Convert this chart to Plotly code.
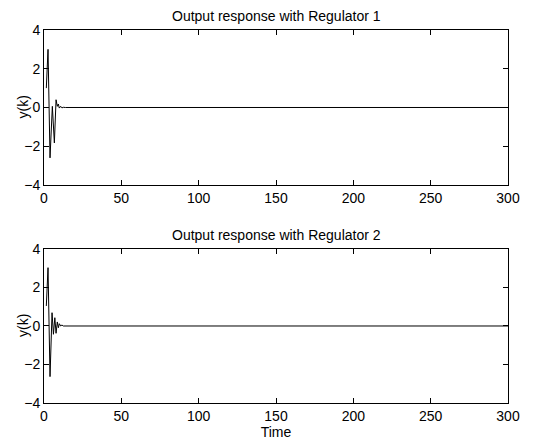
import plotly.graph_objects as go

# Regulator 1 transient (time, output), then settles at 0
t1 = [1.5, 2.6, 3.9, 5.4, 6.7, 7.8, 8.6, 9.25, 9.9, 10.8, 11.6, 12.5, 14]
y1 = [1.0, 3.0, -2.6, 0.06, -1.83, 0.4, 0.06, 0.18, -0.03, 0.06, -0.02, 0.01, 0.0]
# Regulator 2 transient
t2 = [1.5, 2.6, 3.9, 5.2, 6.1, 7.0, 7.8, 8.6, 9.3, 9.9, 10.8, 11.6, 12.5, 14]
y2 = [1.04, 3.03, -2.63, 0.69, -0.43, 0.43, -0.38, 0.21, -0.09, 0.12, 0.0, 0.05, 0.0, 0.0]

tail_t = list(range(15, 301))
tail_y = [0.0] * len(tail_t)

x_ticks = [0, 50, 100, 150, 200, 250, 300]
y_ticks = [-4, -2, 0, 2, 4]
titles = ["Output response with Regulator 1", "Output response with Regulator 2"]
ylabel = "y(k)"

fig = go.Figure()
fig.add_trace(go.Scatter(x=t1 + tail_t, y=y1 + tail_y, mode="lines",
                         line=dict(color="black", width=1), xaxis="x", yaxis="y"))
fig.add_trace(go.Scatter(x=t2 + tail_t, y=y2 + tail_y, mode="lines",
                         line=dict(color="black", width=1), xaxis="x2", yaxis="y2"))

font = dict(family="Liberation Sans, Arial, sans-serif", size=14, color="black")
axcommon = dict(showline=True, linecolor="black", linewidth=1, mirror="ticks",
                ticks="inside", ticklen=5, tickcolor="black", showgrid=False,
                zeroline=False, tickfont=font, automargin=False)

top_dom = [0.5845, 1.0]
bot_dom = [0.0, 0.4129]

annotations = []
for dom, ttl in zip([top_dom, bot_dom], titles):
    annotations.append(dict(text=ttl, x=0.5, y=dom[1], xref="paper", yref="paper",
                            xanchor="center", yanchor="bottom", yshift=4,
                            showarrow=False, font=font))
    annotations.append(dict(text=ylabel, x=0, y=(dom[0] + dom[1]) / 2, xref="paper",
                            yref="paper", xanchor="center", yanchor="middle",
                            xshift=-21, textangle=-90, showarrow=False, font=font))

fig.update_layout(
    width=525, height=435,
    margin=dict(l=36, r=25, t=22, b=40),
    paper_bgcolor="white", plot_bgcolor="white",
    showlegend=False, font=font,
    xaxis=dict(axcommon, range=[0, 300], tickvals=x_ticks, domain=[0, 1], anchor="y"),
    yaxis=dict(axcommon, range=[-4, 4], tickvals=y_ticks, domain=top_dom, anchor="x"),
    xaxis2=dict(axcommon, range=[0, 300], tickvals=x_ticks, domain=[0, 1], anchor="y2",
                title=dict(text="Time", font=font, standoff=0)),
    yaxis2=dict(axcommon, range=[-4, 4], tickvals=y_ticks, domain=bot_dom, anchor="x2"),
    annotations=annotations,
)

fig.write_html("out.html")
